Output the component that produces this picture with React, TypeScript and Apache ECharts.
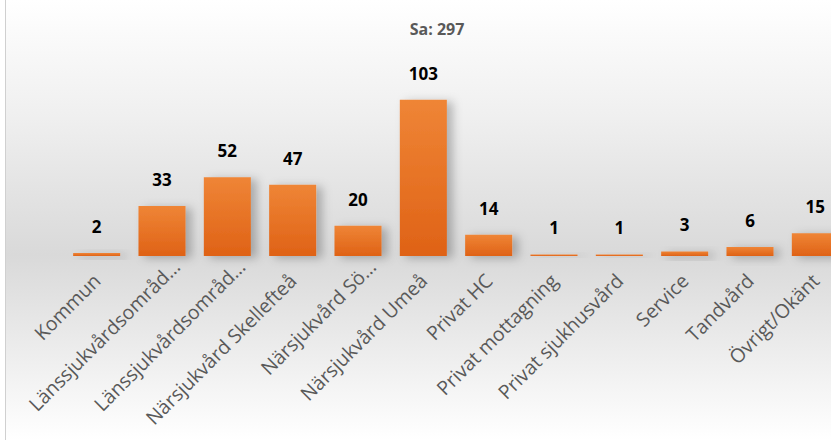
import React, { useEffect, useRef } from "react";
import * as echarts from "echarts";

const titleText = "Sa: 297";
const categories = [
  "Kommun",
  "Länssjukvårdsområd…",
  "Länssjukvårdsområd…",
  "Närsjukvård Skellefteå",
  "Närsjukvård Sö…",
  "Närsjukvård Umeå",
  "Privat HC",
  "Privat mottagning",
  "Privat sjukhusvård",
  "Service",
  "Tandvård",
  "Övrigt/Okänt",
];
const values = [2, 33, 52, 47, 20, 103, 14, 1, 1, 3, 6, 15];

export default function App() {
  const ref = useRef<HTMLDivElement>(null);
  useEffect(() => {
    if (!ref.current) return;
    const chart = echarts.init(ref.current, null, { renderer: "svg" });
    const axisData = categories.map((c) =>
      c.endsWith("…") ? { value: c, textStyle: { padding: [0, -20, 0, 0] } } : c
    );
    chart.setOption({
      animation: false,
      backgroundColor: new echarts.graphic.LinearGradient(0, 0, 0, 1, [
        { offset: 0, color: "#ffffff" },
        { offset: 0.27, color: "#efefef" },
        { offset: 0.58, color: "#d9d9d9" },
        { offset: 1, color: "#ffffff" },
      ]),
      title: {
        text: titleText,
        left: "center",
        top: 16,
        textStyle: {
          fontFamily: "Open Sans",
          fontWeight: "bold",
          fontSize: 16,
          color: "#595959",
        },
      },
      graphic: [
        {
          type: "line",
          shape: { x1: 0.5, y1: 0, x2: 0.5, y2: 440 },
          style: { stroke: "#d0d0d0", lineWidth: 1 },
        },
      ],
      grid: { left: 59, right: 21, top: 74, bottom: 184 },
      xAxis: {
        type: "category",
        data: axisData,
        axisLine: { show: false },
        axisTick: { show: false },
        axisLabel: {
          interval: 0,
          rotate: 45,
          margin: 21,
          fontFamily: "Open Sans",
          fontSize: 19.5,
          color: "#595959",
        },
      },
      yAxis: {
        type: "value",
        min: 0,
        max: 120,
        show: false,
        splitLine: { show: false },
      },
      series: [
        {
          type: "bar",
          data: values,
          barCategoryGap: "28%",
          itemStyle: {
            color: new echarts.graphic.LinearGradient(0, 0, 0, 1, [
              { offset: 0, color: "#ef8536" },
              { offset: 1, color: "#df6216" },
            ]),
            shadowColor: "rgba(0,0,0,0.25)",
            shadowBlur: 10,
            shadowOffsetX: 6,
            shadowOffsetY: 2,
          },
          label: {
            show: true,
            position: "top",
            distance: 18,
            fontFamily: "Open Sans",
            fontWeight: "bold",
            fontSize: 17,
            color: "#000000",
          },
        },
      ],
    });
    return () => chart.dispose();
  }, []);
  return (
    <div
      style={{
        position: "absolute",
        left: 0,
        top: 0,
        width: 831,
        height: 440,
        overflow: "hidden",
        background: "#ffffff",
      }}
    >
      <div
        ref={ref}
        style={{ position: "absolute", left: 5, top: 0, width: 864, height: 440 }}
      />
    </div>
  );
}
